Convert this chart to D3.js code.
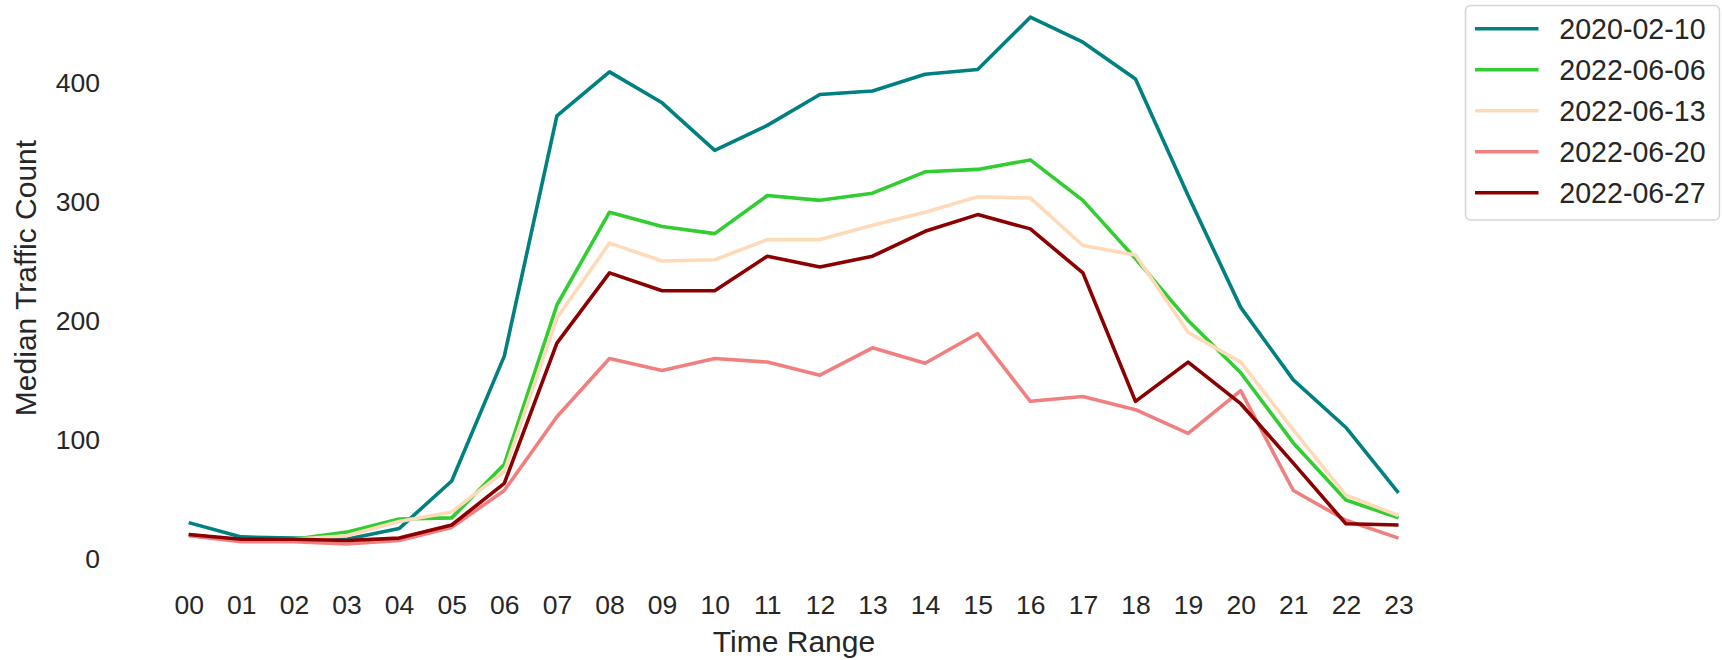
<!DOCTYPE html>
<html>
<head>
<meta charset="utf-8">
<script src="https://cdn.jsdelivr.net/npm/d3@7"></script>
<style>
  html, body { margin: 0; padding: 0; background: #fff; }
  svg { display: block; }
  text { font-family: "Liberation Sans", Arial, sans-serif; fill: #262626; }
</style>
</head>
<body>
<svg id="chart" width="1722" height="660"></svg>
<script>
const hours = ["00","01","02","03","04","05","06","07","08","09","10","11","12","13","14","15","16","17","18","19","20","21","22","23"];
const seriesNames = ["2020-02-10","2022-06-06","2022-06-13","2022-06-20","2022-06-27"];
const seriesColors = ["#008080","#32CD32","#FFDAB9","#F08080","#8B0000"];
const yTicks = [0, 100, 200, 300, 400];

const s20200210 = [30, 18, 17, 16, 25, 65, 170, 372, 409, 383, 343, 364, 390, 393, 407, 411, 455, 434, 403, 305, 211, 150, 110, 55];
const s20220606 = [20, 15, 16, 22, 33, 34, 79, 213, 291, 279, 273, 305, 301, 307, 325, 327, 335, 301, 252, 200, 156, 97, 49, 34];
const s20220613 = [20, 15, 16, 19, 31, 39, 73, 202, 265, 250, 251, 268, 268, 280, 291, 304, 303, 263, 255, 190, 165, 108, 53, 36];
const s20220620 = [19, 14, 14, 12, 15, 26, 57, 119, 168, 158, 168, 165, 154, 177, 164, 189, 132, 136, 125, 105, 141, 57, 32, 17];
const s20220627 = [20, 16, 16, 15, 17, 28, 63, 181, 240, 225, 225, 254, 245, 254, 275, 289, 277, 240, 132, 165, 130, 80, 29, 28];
const seriesValues = [s20200210, s20220606, s20220613, s20220620, s20220627];

const svg = d3.select("#chart");

const x = d3.scalePoint().domain(hours).range([188.7, 1398.5]);
const y = d3.scaleLinear().domain([0, 400]).range([558.3, 82.6]);

// x axis (no spine, no ticks)
const xAxis = svg.append("g")
  .attr("transform", "translate(0,587)")
  .call(d3.axisBottom(x).tickSize(0).tickPadding(0));
xAxis.select(".domain").remove();
xAxis.selectAll("text")
  .attr("dy", null)
  .attr("y", 18)
  .attr("dominant-baseline", "central")
  .style("font-size", "26.5px")
  .style("font-family", "'Liberation Sans', Arial, sans-serif")
  .attr("fill", "#262626");

// y axis
const yAxis = svg.append("g")
  .attr("transform", "translate(100,0)")
  .call(d3.axisLeft(y).tickValues(yTicks).tickSize(0).tickPadding(0).tickFormat(d3.format("d")));
yAxis.select(".domain").remove();
yAxis.selectAll("text")
  .attr("dy", null)
  .attr("x", 0)
  .attr("dominant-baseline", "central")
  .style("font-size", "26.5px")
  .style("font-family", "'Liberation Sans', Arial, sans-serif")
  .attr("fill", "#262626");

// axis labels
svg.append("text")
  .attr("x", 794)
  .attr("y", 641.5)
  .attr("text-anchor", "middle")
  .attr("dominant-baseline", "central")
  .style("font-size", "30px")
  .text("Time Range");

svg.append("text")
  .attr("transform", "translate(25,278) rotate(-90)")
  .attr("text-anchor", "middle")
  .attr("dominant-baseline", "central")
  .style("font-size", "30px")
  .text("Median Traffic Count");

// lines
const line = d3.line()
  .x((d, i) => x(hours[i]))
  .y(d => y(d));

seriesValues.forEach((vals, k) => {
  svg.append("path")
    .datum(vals)
    .attr("fill", "none")
    .attr("stroke", seriesColors[k])
    .attr("stroke-width", 3.6)
    .attr("stroke-linejoin", "round")
    .attr("stroke-linecap", "butt")
    .attr("d", line);
});

// legend
const lg = svg.append("g");
lg.append("rect")
  .attr("x", 1465.5).attr("y", 5.5)
  .attr("width", 254).attr("height", 214.5)
  .attr("rx", 5).attr("ry", 5)
  .attr("fill", "#fff")
  .attr("stroke", "#d6d6d6")
  .attr("stroke-width", 1.5);

const rowY = d3.scalePoint().domain(seriesNames).range([28.7, 192.7]);
seriesNames.forEach((name, k) => {
  const yy = rowY(name);
  lg.append("line")
    .attr("x1", 1475).attr("x2", 1538.5)
    .attr("y1", yy).attr("y2", yy)
    .attr("stroke", seriesColors[k])
    .attr("stroke-width", 3.6);
  lg.append("text")
    .attr("x", 1559.3)
    .attr("y", yy)
    .attr("dominant-baseline", "central")
    .style("font-size", "28.6px")
    .text(name);
});
</script>
</body>
</html>
